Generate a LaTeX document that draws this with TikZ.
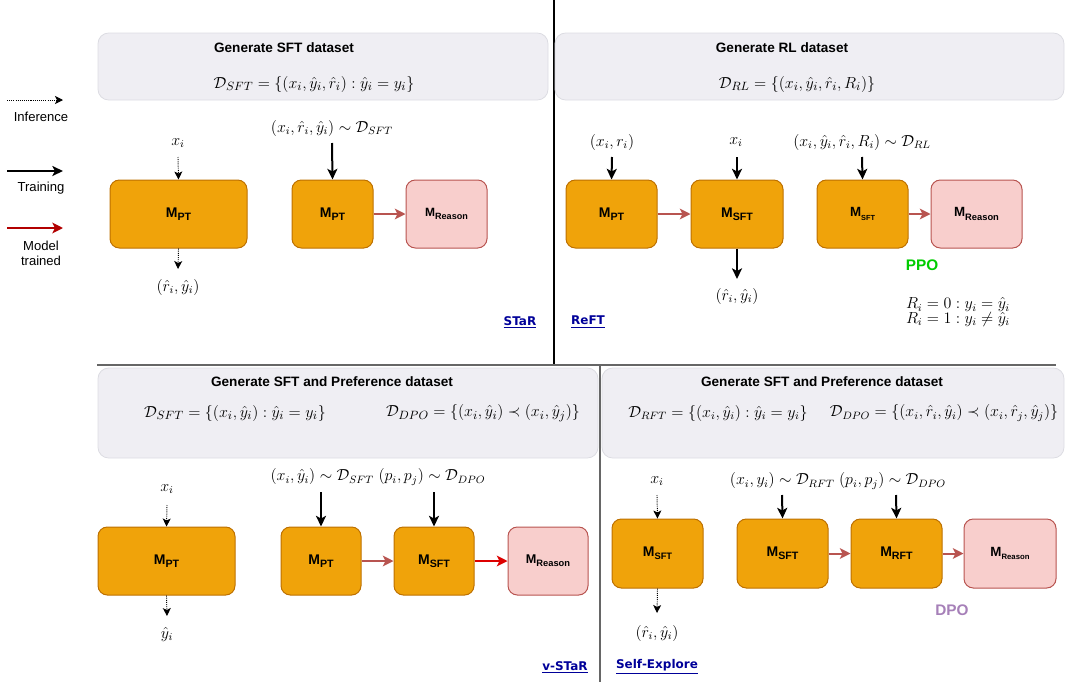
\documentclass[tikz,border=0pt]{standalone}
\usepackage[no-math]{fontspec}
\setmainfont{Liberation Sans}
\newfontfamily\linkfont{DejaVu Sans}
\usetikzlibrary{arrows.meta}
\definecolor{ofill}{HTML}{F0A30A}
\definecolor{ostroke}{HTML}{BD7000}
\definecolor{rfill}{HTML}{F8CECC}
\definecolor{rstroke}{HTML}{B85450}
\definecolor{pfill}{HTML}{EFEEF3}
\definecolor{pstroke}{HTML}{DCDCE2}
\definecolor{linkc}{HTML}{000099}
\definecolor{darkred}{HTML}{B20000}
\definecolor{brightred}{HTML}{DD0000}
\definecolor{ppoc}{HTML}{00CC00}
\definecolor{dpoc}{HTML}{A680B8}
\definecolor{divc}{HTML}{666666}
\newcommand\Mlab[3]{{\fontsize{#2}{#2}\selectfont M}\raisebox{-0.45ex}{\fontsize{#3}{#3}\selectfont #1}}
\begin{document}
\begin{tikzpicture}[x=0.75pt,y=-0.75pt,
  mbox/.style={draw=ostroke, fill=ofill, rounded corners=7pt, line width=0.75pt, inner sep=0pt, font=\bfseries},
  rbox/.style={draw=rstroke, fill=rfill, rounded corners=7pt, line width=0.75pt, inner sep=0pt, font=\bfseries},
  panel/.style={draw=pstroke, fill=pfill, rounded corners=8pt, line width=0.6pt},
  ptitle/.style={font=\fontsize{10.2}{12}\selectfont\bfseries, inner sep=0pt},
  mlab/.style={font=\fontsize{11.8}{14}\selectfont, inner sep=1pt},
  leg/.style={font=\fontsize{9.8}{12}\selectfont, align=center, inner sep=0pt},
  link/.style={font={\linkfont\bfseries\fontsize{9}{11}\selectfont}, text=linkc, inner sep=0pt},
  trainarr/.style={-{Stealth[length=8pt,width=7.5pt,inset=2pt]}, line width=1.5pt, black},
  infarr/.style={-{Stealth[length=6pt,width=6pt,inset=1.5pt]}, line width=0.7pt, dash pattern=on 0.8pt off 0.8pt, black},
  modarr/.style={-{Stealth[length=8pt,width=8pt,inset=2pt]}, line width=1.5pt, rstroke},
]
\useasboundingbox (0,0) rectangle (1066,682);
% dividers
\draw[line width=0.8pt, black] (554,0) -- (554,365);
\draw[line width=1pt, divc] (97,365) -- (1056,365);
\draw[line width=1pt, divc] (600,365) -- (600,682);

% panels
\draw[panel] (98,33) rectangle (548,100);
\draw[panel] (555,33) rectangle (1064,100);
\draw[panel] (98,368) rectangle (598,458);
\draw[panel] (602,368) rectangle (1064,458);

\node[ptitle] (t1) at (284,48) {Generate SFT dataset};
\node[mlab, font=\fontsize{12.8}{15}\selectfont] (f1) at (314,84) {$\mathcal{D}_{SFT}=\{(x_i,\hat{y}_i,\hat{r}_i):\hat{y}_i=y_i\}$};
\node[ptitle] (t2) at (782,48) {Generate RL dataset};
\node[mlab, font=\fontsize{12.3}{15}\selectfont] (f2) at (797,84) {$\mathcal{D}_{RL}=\{(x_i,\hat{y}_i,\hat{r}_i,R_i)\}$};
\node[ptitle] (t3) at (332,382) {Generate SFT and Preference dataset};
\node[mlab, font=\fontsize{12.6}{15}\selectfont] (f3) at (235,413) {$\mathcal{D}_{SFT}=\{(x_i,\hat{y}_i):\hat{y}_i=y_i\}$};
\node[mlab, font=\fontsize{12.3}{15}\selectfont] (f4) at (483,413) {$\mathcal{D}_{DPO}=\{(x_i,\hat{y}_i)\prec(x_i,\hat{y}_j)\}$};
\node[ptitle] (t4) at (822,382) {Generate SFT and Preference dataset};
\node[mlab, font=\fontsize{12}{15}\selectfont] (f5) at (718,413) {$\mathcal{D}_{RFT}=\{(x_i,\hat{y}_i):\hat{y}_i=y_i\}$};
\node[mlab, font=\fontsize{12}{15}\selectfont] (f6) at (944,413) {$\mathcal{D}_{DPO}=\{(x_i,\hat{r}_i,\hat{y}_i)\prec(x_i,\hat{r}_j,\hat{y}_j)\}$};

% legend
\coordinate (li0) at (7,100); \coordinate (li1) at (63,100);
\draw[infarr] (li0) -- (li1);
\node[leg] (linf) at (41,117) {Inference};
\coordinate (lt0) at (7,171); \coordinate (lt1) at (63,171);
\draw[trainarr] (lt0) -- (lt1);
\node[leg] (ltr) at (41,188) {Training};
\coordinate (lm0) at (7,228); \coordinate (lm1) at (63,228);
\draw[-{Stealth[length=8pt,width=8pt,inset=2pt]}, line width=1.5pt, darkred] (lm0) -- (lm1);
\node[leg] (lmod) at (41,253) {Model\\[-1pt]trained};

% ---------- top-left (STaR)
\node[mbox, minimum width=102.75pt, minimum height=51pt] (a1) at (178.5,214) {\Mlab{PT}{10.5}{8}};
\node[mbox, minimum width=60.75pt, minimum height=51pt] (a2) at (332.5,214) {\Mlab{PT}{10.5}{8}};
\node[rbox, minimum width=60.75pt, minimum height=51pt] (a3) at (446.5,214) {\Mlab{Reason}{9}{6.8}};
\node[mlab] (a1in) at (178,143) {$x_i$};
\coordinate (a1s) at (178,157);
\draw[infarr] (a1s) -- (a1.north);
\coordinate (a1e) at (178,269);
\draw[infarr] (a1.south) -- (a1e);
\node[mlab] (a1out) at (178,287) {$(\hat{r}_i,\hat{y}_i)$};
\node[mlab] (a2in) at (332,128) {$(x_i,\hat{r}_i,\hat{y}_i)\sim\mathcal{D}_{SFT}$};
\coordinate (a2s) at (332,143);
\draw[trainarr] (a2s) -- (a2.north);
\draw[modarr] (a2) -- (a3);
\node[link] (star) at (520,322) {\underline{STaR}};

% ---------- top-right (ReFT)
\node[mbox, minimum width=68.25pt, minimum height=51pt] (b1) at (611.5,214) {\Mlab{PT}{10.5}{8}};
\node[mbox, minimum width=69pt, minimum height=51pt] (b2) at (737,214) {\Mlab{SFT}{10.5}{8}};
\node[mbox, minimum width=68.25pt, minimum height=51pt] (b3) at (862.5,214) {\Mlab{SFT}{10}{5.5}};
\node[rbox, minimum width=68.25pt, minimum height=51pt] (b4) at (976.5,214) {\Mlab{Reason}{10}{7}};
\node[mlab] (b1in) at (612,142) {$(x_i,r_i)$};
\coordinate (b1s) at (612,157);
\draw[trainarr] (b1s) -- (b1.north);
\node[mlab] (b2in) at (736,142) {$x_i$};
\coordinate (b2s) at (737,157);
\draw[trainarr] (b2s) -- (b2.north);
\node[mlab] (b3in) at (862,142) {$(x_i,\hat{y}_i,\hat{r}_i,R_i)\sim\mathcal{D}_{RL}$};
\coordinate (b3s) at (862,157);
\draw[trainarr] (b3s) -- (b3.north);
\coordinate (b2e) at (737,279);
\draw[trainarr] (b2.south) -- (b2e);
\node[mlab] (b2out) at (737,296) {$(\hat{r}_i,\hat{y}_i)$};
\draw[modarr] (b1) -- (b2);
\draw[modarr] (b3) -- (b4);
\node[font=\fontsize{11.5}{14}\selectfont\bfseries, text=ppoc, inner sep=0pt] (ppo) at (922,265) {PPO};
\node[mlab, align=left] (rdef) at (958,312) {$R_i=0:y_i=\hat{y}_i$\\[-3pt]$R_i=1:y_i\neq\hat{y}_i$};
\node[link] (reft) at (588,322) {\underline{ReFT}};

% ---------- bottom-left (v-STaR)
\node[mbox, minimum width=102.75pt, minimum height=51pt] (c1) at (166.5,561) {\Mlab{PT}{10.5}{8}};
\node[mbox, minimum width=60pt, minimum height=51pt] (c2) at (321,561) {\Mlab{PT}{10.5}{8}};
\node[mbox, minimum width=60pt, minimum height=51pt] (c3) at (434,561) {\Mlab{SFT}{10.5}{8}};
\node[rbox, minimum width=60pt, minimum height=51pt] (c4) at (548,561) {\Mlab{Reason}{9.5}{7}};
\node[mlab] (c1in) at (167,489) {$x_i$};
\coordinate (c1s) at (167,505);
\draw[infarr] (c1s) -- (c1.north);
\coordinate (c1e) at (167,616);
\draw[infarr] (c1.south) -- (c1e);
\node[mlab] (c1out) at (167,634) {$\hat{y}_i$};
\node[mlab] (c2in) at (378,477) {$(x_i,\hat{y}_i)\sim\mathcal{D}_{SFT}\;(p_i,p_j)\sim\mathcal{D}_{DPO}$};
\coordinate (c2s) at (321,492);
\draw[trainarr] (c2s) -- (c2.north);
\coordinate (c3s) at (434,492);
\draw[trainarr] (c3s) -- (c3.north);
\draw[modarr] (c2) -- (c3);
\draw[-{Stealth[length=8pt,width=8pt,inset=2pt]}, line width=1.5pt, brightred] (c3) -- (c4);
\node[link] (vstar) at (565,667) {\underline{v-STaR}};

% ---------- bottom-right (Self-Explore)
\node[mbox, minimum width=68.25pt, minimum height=51.75pt] (d1) at (657.5,553.5) {\Mlab{SFT}{10.5}{7}};
\node[mbox, minimum width=68.25pt, minimum height=51.75pt] (d2) at (782.5,553.5) {\Mlab{SFT}{10.5}{8}};
\node[mbox, minimum width=68.25pt, minimum height=51.75pt] (d3) at (896.5,553.5) {\Mlab{RFT}{10.5}{8}};
\node[rbox, minimum width=69pt, minimum height=51.75pt] (d4) at (1010,553.5) {\Mlab{Reason}{10}{5.8}};
\node[mlab] (d1in) at (657,481) {$x_i$};
\coordinate (d1s) at (657,495);
\draw[infarr] (d1s) -- (d1.north);
\coordinate (d1e) at (657,613);
\draw[infarr] (d1.south) -- (d1e);
\node[mlab] (d1out) at (657,633) {$(\hat{r}_i,\hat{y}_i)$};
\node[mlab] (d2in) at (838,481) {$(x_i,y_i)\sim\mathcal{D}_{RFT}\;(p_i,p_j)\sim\mathcal{D}_{DPO}$};
\coordinate (d2s) at (782,495);
\draw[trainarr] (d2s) -- (d2.north);
\coordinate (d3s) at (896,495);
\draw[trainarr] (d3s) -- (d3.north);
\draw[modarr] (d2) -- (d3);
\draw[modarr] (d3) -- (d4);
\node[font=\fontsize{11.5}{14}\selectfont\bfseries, text=dpoc, inner sep=0pt] (dpo) at (952,610) {DPO};
\node[link] (sexp) at (657,667) {\underline{Self-Explore}};
\end{tikzpicture}
\end{document}
